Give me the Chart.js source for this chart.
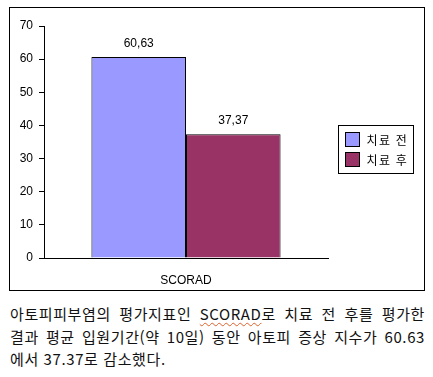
<!DOCTYPE html>
<html lang="ko">
<head>
<meta charset="UTF-8" />
<title>SCORAD 치료 전 후</title>
<script src="https://cdn.jsdelivr.net/npm/chart.js@4"></script>
<style>
  html, body { margin: 0; padding: 0; background: #fff; }
  #box { position: absolute; left: 9px; top: 7px; width: 414px; height: 282px; border: 1px solid #000; }
  #caption { position: absolute; left: 10px; top: 303px; width: 415px; font: 15px "Noto Sans CJK KR", sans-serif; line-height: 22.5px; color: #111; letter-spacing: 0.6px; }
  #caption div { text-align: justify; text-align-last: justify; white-space: nowrap; }
  #caption div.last { text-align-last: left; }
  .spell { text-decoration: underline wavy #e0602a; text-decoration-thickness: 1px; text-underline-offset: 2px; }
</style>
</head>
<body>
<div id="box"><canvas id="c" width="414" height="282"></canvas></div>
<div id="caption">
  <div>아토피피부염의 평가지표인 <span class="spell">SCORAD</span>로 치료 전 후를 평가한</div>
  <div>결과 평균 입원기간(약 10일) 동안 아토피 증상 지수가 60.63</div>
  <div class="last">에서 37.37로 감소했다.</div>
</div>
<script>
const categories = ["SCORAD"];
const seriesNames = ["치료 전", "치료 후"];
const beforeValues = [60.63];
const afterValues = [37.37];
const seriesColors = ["#9999ff", "#993366"];
const yTicks = [0, 10, 20, 30, 40, 50, 60, 70];

const fontLatin = "'Liberation Sans', Arial, sans-serif";
const fontKo = "'Noto Sans CJK KR', sans-serif";

// value labels above each bar
const valueLabels = {
  id: "valueLabels",
  afterDatasetsDraw(chart) {
    const ctx = chart.ctx;
    ctx.save();
    ctx.font = "12px " + fontLatin;
    ctx.fillStyle = "#000";
    ctx.textAlign = "center";
    ctx.textBaseline = "middle";
    chart.data.datasets.forEach((ds, i) => {
      chart.getDatasetMeta(i).data.forEach((bar, j) => {
        const txt = ds.data[j].toFixed(2).replace(".", ",");
        ctx.fillText(txt, bar.x, bar.y - 13);
      });
    });
    ctx.restore();
  }
};

// boxed legend to the right of the plot
const boxLegend = {
  id: "boxLegend",
  afterDraw(chart) {
    const ctx = chart.ctx;
    const x = chart.chartArea.right + 10.5, y = 117.5, w = 75, h = 48;
    ctx.save();
    ctx.strokeStyle = "#000";
    ctx.lineWidth = 1;
    ctx.strokeRect(x, y, w, h);
    ctx.font = "12px " + fontKo;
    ctx.letterSpacing = "1.5px";
    ctx.textBaseline = "middle";
    chart.data.datasets.forEach((ds, i) => {
      const sy = y + 7 + i * 20;
      ctx.fillStyle = ds.backgroundColor;
      ctx.fillRect(x + 7, sy, 14, 14);
      ctx.strokeRect(x + 7, sy, 14, 14);
      ctx.fillStyle = "#000";
      ctx.fillText(ds.label, x + 28, sy + 7.5);
    });
    ctx.restore();
  }
};

new Chart(document.getElementById("c").getContext("2d"), {
  type: "bar",
  data: {
    labels: categories,
    datasets: [
      { label: seriesNames[0], data: beforeValues, backgroundColor: seriesColors[0], borderColor: "#000", borderWidth: 1 },
      { label: seriesNames[1], data: afterValues, backgroundColor: seriesColors[1], borderColor: "#000", borderWidth: 1 }
    ]
  },
  options: {
    responsive: false,
    animation: false,
    categoryPercentage: 0.666,
    barPercentage: 1,
    layout: { padding: { top: 18, right: 96, left: 0, bottom: 0 } },
    plugins: { legend: { display: false }, tooltip: { enabled: false } },
    scales: {
      x: {
        grid: { display: false },
        border: { display: true, color: "#000", width: 1 },
        ticks: { color: "#000", font: { family: fontLatin, size: 12 }, padding: 7 },
        afterFit(s) { s.height = 32; }
      },
      y: {
        min: 0,
        max: 70,
        afterBuildTicks(s) { s.ticks = yTicks.map(v => ({ value: v })); },
        grid: { drawOnChartArea: false, color: "#000", tickLength: 5 },
        border: { display: true, color: "#000", width: 1 },
        ticks: { color: "#000", font: { family: fontLatin, size: 12 }, padding: 6 },
        afterFit(s) { s.width = 34; }
      }
    }
  },
  plugins: [valueLabels, boxLegend]
});
</script>
</body>
</html>
